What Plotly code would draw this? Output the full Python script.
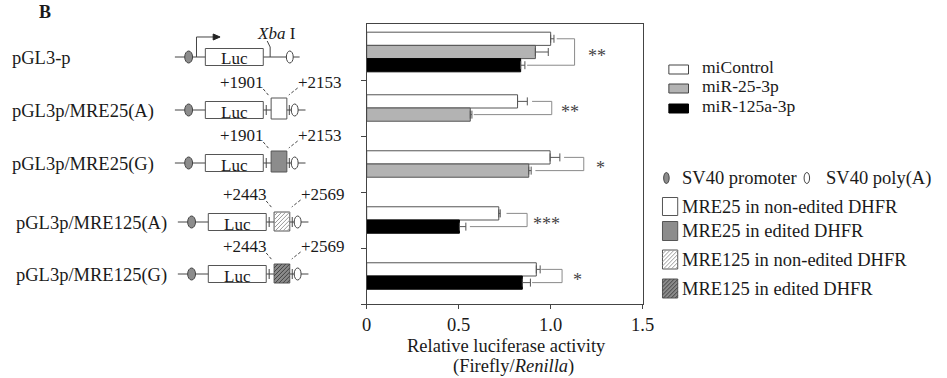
import plotly.graph_objects as go

# ---------------- data ----------------
constructs = ["pGL3-p", "pGL3p/MRE25(A)", "pGL3p/MRE25(G)", "pGL3p/MRE125(A)", "pGL3p/MRE125(G)"]
series_names = ["miControl", "miR-25-3p", "miR-125a-3p"]
mi_control = [1.00, 0.82, 0.997, 0.718, 0.922]
mi_control_err = [0.018, 0.053, 0.053, 0.008, 0.021]
mir25 = [0.917, 0.563, 0.881, None, None]
mir25_err = [0.07, 0.009, 0.013, None, None]
mir125 = [0.837, None, None, 0.504, 0.846]
mir125_err = [0.023, None, None, 0.035, 0.044]
sig_labels = ["**", "**", "*", "***", "*"]
bracket_right = [1.130, 1.006, 1.180, 0.872, 1.062]
bracket_top_start = [1.033, 0.899, 1.073, 0.760, 0.949]
bracket_bot_start = [0.872, 0.582, 0.917, 0.561, 0.899]
star_x = [1.193, 1.045, 1.233, 0.894, 1.113]
x_ticks = [0, 0.5, 1.0, 1.5]
x_tick_labels = ["0", "0.5", "1.0", "1.5"]
insert_labels = [None, ("+1901", "+2153"), ("+1901", "+2153"), ("+2443", "+2569"), ("+2443", "+2569")]
legend2_items = ["MRE25 in non-edited DHFR", "MRE25 in edited DHFR",
                 "MRE125 in non-edited DHFR", "MRE125 in edited DHFR"]

# ---------------- styles ----------------
FW, FH = 947, 378
FONT = "Liberation Serif"
TXT = "#1a1a1a"
series_fill = ["#ffffff", "#b3b3b3", "#000000"]
series_edge = ["#555555", "#555555", "#000000"]
BW = 0.236

series_vals = [mi_control, mir25, mir125]
series_errs = [mi_control_err, mir25_err, mir125_err]
n_groups = len(constructs)
groups = list(range(n_groups))

offsets = [[0.0] * n_groups for _ in series_vals]
present_by_group = []
for g in groups:
    present = [s for s in range(len(series_vals)) if series_vals[s][g] is not None]
    present_by_group.append(present)
    n = len(present)
    for k, s in enumerate(present):
        offsets[s][g] = (k - n / 2) * BW

fig = go.Figure()
for s, name in enumerate(series_names):
    errs = [e if e is not None else 0 for e in series_errs[s]]
    fig.add_trace(go.Bar(
        name=name, orientation="h", x=series_vals[s], y=groups,
        offset=offsets[s], width=BW,
        marker=dict(color=series_fill[s], line=dict(color=series_edge[s], width=1)),
        error_x=dict(type="data", symmetric=False, array=errs, arrayminus=[0] * n_groups,
                     color="#555555", thickness=1, width=4),
        showlegend=False, hoverinfo="skip",
    ))

annotations = []
# significance brackets
for g in groups:
    pres = present_by_group[g]
    y_top = g + offsets[pres[0]][g] + BW / 2
    y_bot = g + offsets[pres[-1]][g] + BW / 2
    fig.add_trace(go.Scatter(
        x=[bracket_top_start[g], bracket_right[g], bracket_right[g], bracket_bot_start[g]],
        y=[y_top, y_top, y_bot, y_bot], mode="lines",
        line=dict(color="#8a8a8a", width=1), showlegend=False, hoverinfo="skip"))
    annotations.append(dict(x=star_x[g], y=(y_top + y_bot) / 2, xref="x", yref="y",
                            text=sig_labels[g], showarrow=False, xanchor="left", yanchor="middle",
                            yshift=-4, font=dict(family=FONT, size=18, color="#444444")))

# ---------------- helpers for the schematic (pixel -> paper) ----------------
shapes = []

def PX(x):
    return x / FW

def PY(y):
    return 1 - y / FH

def line(x0, y0, x1, y1, color="#444444", width=1, dash=None):
    d = dict(color=color, width=width)
    if dash:
        d["dash"] = dash
    shapes.append(dict(type="line", xref="paper", yref="paper",
                       x0=PX(x0), y0=PY(y0), x1=PX(x1), y1=PY(y1), line=d))

def rect(x0, y0, x1, y1, fill, color="#555555", width=1):
    shapes.append(dict(type="rect", xref="paper", yref="paper",
                       x0=PX(x0), y0=PY(y0), x1=PX(x1), y1=PY(y1),
                       fillcolor=fill, line=dict(color=color, width=width)))

def ellipse(cx, cy, rx, ry, fill, color="#444444"):
    shapes.append(dict(type="circle", xref="paper", yref="paper",
                       x0=PX(cx - rx), y0=PY(cy - ry), x1=PX(cx + rx), y1=PY(cy + ry),
                       fillcolor=fill, line=dict(color=color, width=1)))

def path(pts_str, fill=None, color="#444444", width=1):
    d = dict(type="path", xref="paper", yref="paper", path=pts_str,
             line=dict(color=color, width=width))
    if fill:
        d["fillcolor"] = fill
    shapes.append(d)

def hatch_box(x0, y0, x1, y1, bg, hatch_color, step=4):
    rect(x0, y0, x1, y1, bg, color="#555555")
    segs = []
    c = x0 + y0 + step
    while c < x1 + y1:
        xa = max(x0, c - y1)
        xb = min(x1, c - y0)
        if xb > xa:
            segs.append("M%.5f,%.5f L%.5f,%.5f" % (PX(xa), PY(c - xa), PX(xb), PY(c - xb)))
        c += step
    path(" ".join(segs), color=hatch_color, width=1)

def text(x, y, s, size=18.5, xanchor="center", color=TXT, bold=False):
    t = "<b>%s</b>" % s if bold else s
    annotations.append(dict(x=PX(x), y=PY(y), xref="paper", yref="paper", text=t,
                            showarrow=False, xanchor=xanchor, yanchor="middle",
                            borderpad=0, borderwidth=0,
                            font=dict(family=FONT, size=size, color=color)))

# ---------------- schematic ----------------
text(41, 12, "B", size=18, bold=True)
rows_y = [57, 110, 163, 222, 274]
row_dx = [0, 0, 0, 3, 3]
label_x = [7, 7, 7, 11.5, 11.5]
for g, name in enumerate(constructs):
    y = rows_y[g]
    dx = row_dx[g]
    text(label_x[g], y + 1, name, xanchor="left")
    if g == 0:
        line(173, y, 300, y)
        ellipse(187, y, 4, 6, "#8c8c8c")
        # promoter arrow
        path("M%.5f,%.5f L%.5f,%.5f L%.5f,%.5f" % (PX(195), PY(y), PX(195), PY(y - 20), PX(213), PY(y - 20)))
        path("M%.5f,%.5f L%.5f,%.5f L%.5f,%.5f Z" % (PX(212), PY(y - 23), PX(219), PY(y - 20), PX(212), PY(y - 17)),
             fill="#222222", color="#222222")
        rect(204, y - 8.5, 263, y + 8.5, "#ffffff")
        text(233.5, y + 2, "Luc", size=17)
        # Xba I site
        path("M%.5f,%.5f L%.5f,%.5f L%.5f,%.5f" % (PX(270), PY(y), PX(270), PY(y - 10), PX(267), PY(y - 16)))
        text(276, y - 24, "<i>Xba</i> I", size=17)
        ellipse(290, y, 3.5, 6, "#ffffff")
    else:
        line(173 + dx, y, 306 + dx, y)
        ellipse(187 + dx, y, 4, 6, "#8c8c8c")
        rect(204 + dx, y - 8.5, 263 + dx, y + 8.5, "#ffffff")
        text(233.5 + dx, y + 2, "Luc", size=17)
        line(266 + dx, y - 5, 266 + dx, y + 5)
        line(289.5 + dx, y - 5, 289.5 + dx, y + 5)
        if g == 1:
            rect(271, y - 12, 287, y + 9, "#ffffff")
        elif g == 2:
            rect(271, y - 12, 287, y + 9, "#8c8c8c")
        elif g == 3:
            hatch_box(271 + dx, y - 10, 287 + dx, y + 9, "#ffffff", "#9a9a9a")
        else:
            hatch_box(271 + dx, y - 10, 287 + dx, y + 9, "#8a8a8a", "#444444")
        ellipse(295 + dx, y, 3.5, 6, "#ffffff")
        line(263 + dx, y - 21, 269 + dx, y - 14, dash="3px,2px")
        line(298 + dx, y - 22, 289 + dx, y - 15, dash="3px,2px")
        lab_l, lab_r = insert_labels[g]
        text(241 + dx, y - 28, lab_l, size=17)
        text(298 + dx, y - 28, lab_r, size=17, xanchor="left")

# ---------------- legend 1 (series) ----------------
leg1_y = [69.5, 88.5, 108.5]
for s, name in enumerate(series_names):
    y = leg1_y[s]
    rect(676, y - 4.5, 696, y + 4.5, series_fill[s], color="#444444" if s < 2 else "#000000")
    text(710, y - 2.5, name, xanchor="left", size=17.5)

# ---------------- legend 2 (schematic key) ----------------
ellipse(673.5, 178, 2.8, 5.5, "#8c8c8c")
text(689, 178, "SV40 promoter", xanchor="left")
ellipse(816.5, 178, 2.8, 5.5, "#ffffff")
text(836.5, 178, "SV40 poly(A)", xanchor="left")
leg2_y = [206.5, 231, 259.5, 288.5]
for i, name in enumerate(legend2_items):
    y = leg2_y[i]
    if i == 0:
        rect(669.5, y - 9, 685, y + 9, "#ffffff")
    elif i == 1:
        rect(669.5, y - 9.5, 685, y + 9.5, "#8c8c8c")
    elif i == 2:
        hatch_box(669.5, y - 9.5, 685, y + 9.5, "#ffffff", "#9a9a9a")
    else:
        hatch_box(669.5, y - 9.5, 685, y + 9.5, "#8a8a8a", "#444444")
    text(689, y, name, xanchor="left")

# ---------------- axis titles ----------------
text(510.5, 346, "Relative luciferase activity")
text(518, 366, "(Firefly/<i>Renilla</i>)")

fig.update_layout(
    width=FW, height=FH,
    margin=dict(l=0, r=0, t=0, b=0),
    paper_bgcolor="white", plot_bgcolor="white",
    barmode="overlay",
    showlegend=False,
    shapes=shapes,
    annotations=annotations,
    xaxis=dict(domain=[368.3 / FW, 649.3 / FW], range=[0, 1.5], tickvals=x_ticks,
               ticktext=x_tick_labels, ticks="outside", ticklen=4, tickcolor="#444444",
               showline=True, linecolor="#444444", linewidth=1, mirror=True,
               showgrid=False, zeroline=False, ticklabelstandoff=0,
               tickfont=dict(family=FONT, size=18.5, color=TXT)),
    yaxis=dict(domain=[1 - 304 / FH, 1 - 24 / FH], range=[n_groups - 0.5, -0.5],
               tickvals=[g + 0.5 for g in groups], showticklabels=False,
               ticks="outside", ticklen=5, tickcolor="#444444",
               showline=True, linecolor="#444444", linewidth=1, mirror=True,
               showgrid=False, zeroline=False),
)

fig.write_html("out.html")
